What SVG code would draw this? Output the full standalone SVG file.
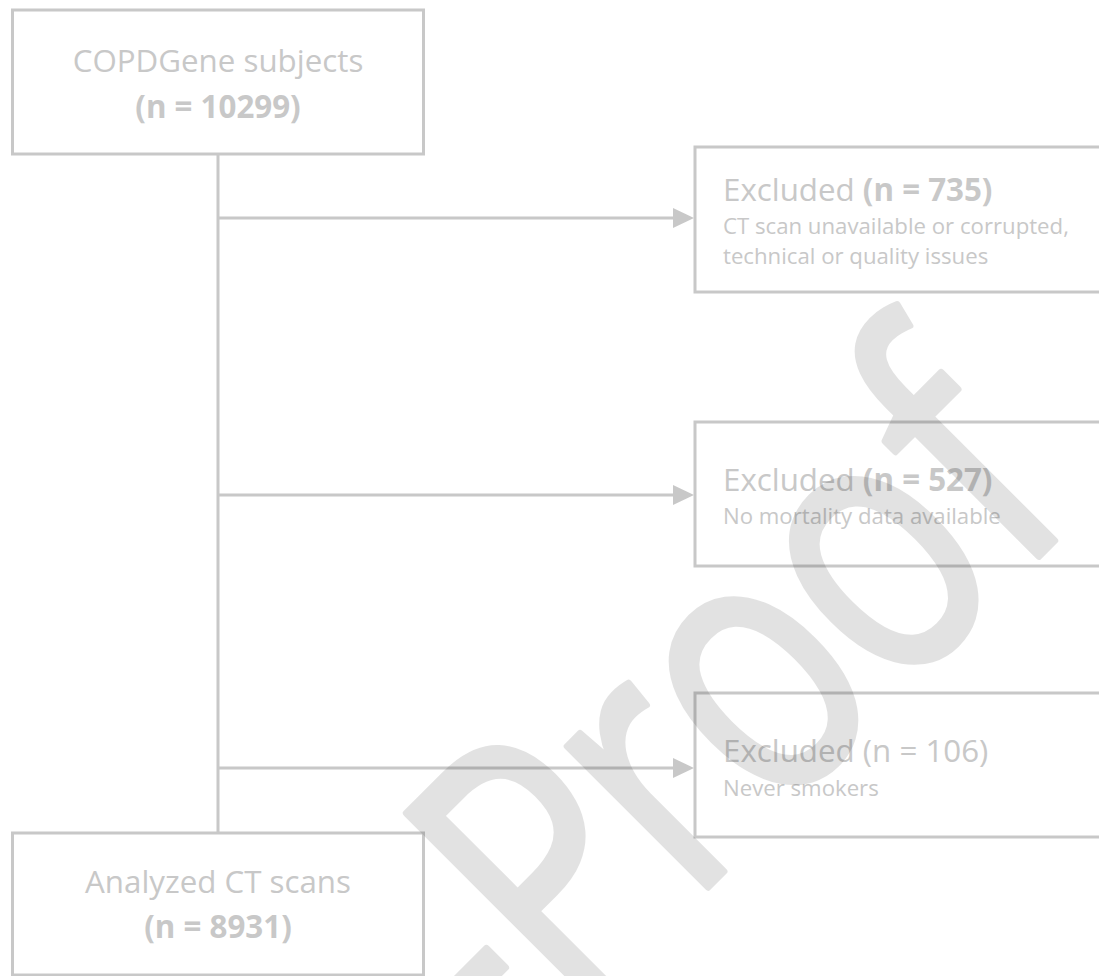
<svg xmlns="http://www.w3.org/2000/svg" width="1099" height="976" viewBox="0 0 1099 976">
  <defs>
    <style>
      .box { fill: #ffffff; stroke: #c8c8c8; stroke-width: 3; }
      .conn { fill: none; stroke: #c8c8c8; stroke-width: 3; }
      .big { font-family: "Open Sans", "Liberation Sans", sans-serif; font-size: 31.3px; fill: #c8c8c8; }
      .small { font-family: "Open Sans", "Liberation Sans", sans-serif; font-size: 22.2px; fill: #c8c8c8; }
      .b { font-weight: bold; }
      .mid { text-anchor: middle; }
      .wm { font-family: "Open Sans", "Liberation Sans", sans-serif; font-size: 372px; fill: #000000; stroke: #000000; stroke-width: 7px; stroke-linejoin: round; }
    </style>
    <marker id="arrow" viewBox="0 0 21 20" refX="11" refY="10" markerWidth="21" markerHeight="20" markerUnits="userSpaceOnUse" orient="auto">
      <path d="M0,0 L21,10 L0,20 Z" fill="#c8c8c8"/>
    </marker>
  </defs>
  <rect width="1099" height="976" fill="#ffffff"/>

  <g id="connectors">
    <line class="conn" x1="218" y1="154" x2="218" y2="833"/>
    <line class="conn" x1="218" y1="218" x2="684" y2="218" marker-end="url(#arrow)"/>
    <line class="conn" x1="218" y1="495" x2="684" y2="495" marker-end="url(#arrow)"/>
    <line class="conn" x1="218" y1="768" x2="684" y2="768" marker-end="url(#arrow)"/>
  </g>

  <g id="node-copdgene">
    <rect class="box" x="12.5" y="10" width="411" height="144"/>
    <text class="big mid" x="218" y="72">COPDGene subjects</text>
    <text class="big mid b" x="218" y="118">(n = 10299)</text>
  </g>

  <g id="node-excluded-735">
    <rect class="box" x="695" y="147" width="420" height="145"/>
    <text class="big" x="723" y="201">Excluded <tspan class="b">(n = 735)</tspan></text>
    <text class="small" x="723" y="234">CT scan unavailable or corrupted,</text>
    <text class="small" x="723" y="264">technical or quality issues</text>
  </g>

  <g id="node-excluded-527">
    <rect class="box" x="695" y="422" width="420" height="144"/>
    <text class="big" x="723" y="491">Excluded <tspan class="b">(n = 527)</tspan></text>
    <text class="small" x="723" y="524">No mortality data available</text>
  </g>

  <g id="node-excluded-106">
    <rect class="box" x="695" y="693" width="420" height="144"/>
    <text class="big" x="723" y="762">Excluded (n = 106)</text>
    <text class="small" x="723" y="796">Never smokers</text>
  </g>

  <g id="node-analyzed">
    <rect class="box" x="12.5" y="833" width="411" height="142"/>
    <text class="big mid" x="218" y="893">Analyzed CT scans</text>
    <text class="big mid b" x="218" y="938">(n = 8931)</text>
  </g>

  <g id="watermark" opacity="0.11">
    <text class="wm" transform="rotate(-45) scale(0.78,1)" x="-523 -406 -195 -46 172 396" y="1128">-Proof</text>
  </g>
</svg>
